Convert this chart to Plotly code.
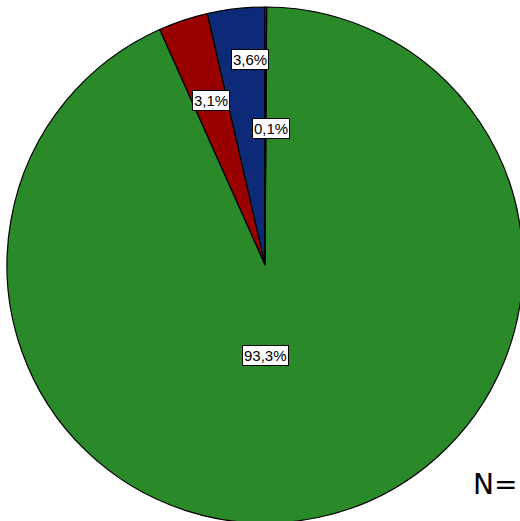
import numpy as np
import plotly.graph_objects as go

labels = ["A", "B", "C", "D"]
values = [3.6, 3.1, 93.3, 0.1]
text_labels = ["3,6%", "3,1%", "93,3%", "0,1%"]
colors = ["#0d2a78", "#990000", "#2a8a2a", "#2a8a2a"]

W, H = 523, 523
ml, mt = 7, 7

frac = np.array(values) / sum(values)

fig = go.Figure(go.Pie(
    labels=labels,
    values=values,
    sort=False,
    direction="counterclockwise",
    rotation=-frac[0] * 360,
    textinfo="none",
    hoverinfo="label+percent",
    marker=dict(colors=colors, line=dict(color="black", width=1.2)),
    showlegend=False,
    domain=dict(x=[0, 1], y=[0, 1]),
))

# label placement (SPSS style): angle shift in degrees, radius fraction
ang_shift = [-2.3, -0.3, -11.3, -2.3]
rad_frac = [0.80, 0.67, 0.35, 0.53]

pw, ph = W - ml, H - mt
R = min(pw, ph) / 2
cx, cy = ml + pw / 2, mt + ph / 2
start = np.concatenate([[0], np.cumsum(frac)[:-1]]) * 360
mid = start + frac * 180

for i, t in enumerate(text_labels):
    th = np.radians(mid[i] + ang_shift[i])
    px = cx - rad_frac[i] * R * np.sin(th)
    py = cy - rad_frac[i] * R * np.cos(th)
    fig.add_annotation(
        x=(px - ml) / pw, y=1 - (py - mt) / ph,
        xref="paper", yref="paper",
        xanchor="center", yanchor="middle",
        text=t, showarrow=False,
        font=dict(family="Liberation Sans, Arial", size=15, color="black"),
        bgcolor="white", bordercolor="black", borderwidth=1, borderpad=1,
    )

fig.add_annotation(
    x=(519 - ml) / pw, y=1 - (484 - mt) / ph, xref="paper", yref="paper",
    text="N=", showarrow=False, xanchor="right", yanchor="middle",
    font=dict(family="DejaVu Sans", size=28, color="black"),
)

fig.update_layout(
    width=W, height=H,
    margin=dict(l=ml, r=0, t=mt, b=0),
    paper_bgcolor="white",
    plot_bgcolor="white",
)

# no page margin / scrollbars so the pie sits where the reference has it
fig.write_html(
    "out.html",
    config={"displayModeBar": False},
    post_script="document.body.style.margin='0';document.body.style.overflow='hidden';",
)
